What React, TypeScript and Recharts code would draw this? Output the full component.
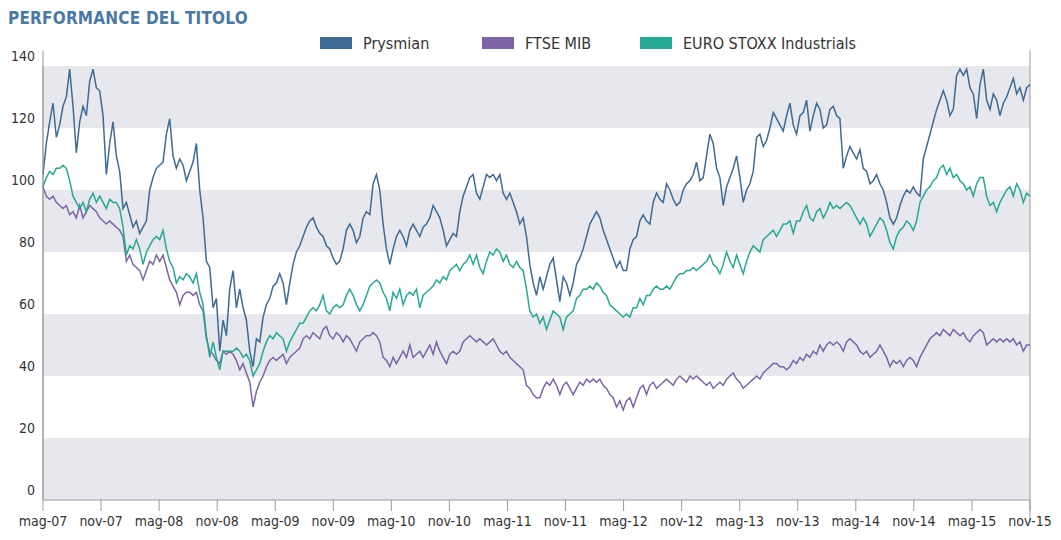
import React from "react";
import { LineChart, Line, XAxis, YAxis, ReferenceArea, ReferenceLine } from "recharts";

const tickLabels = ["mag-07","nov-07","mag-08","nov-08","mag-09","nov-09","mag-10","nov-10","mag-11","nov-11","mag-12","nov-12","mag-13","nov-13","mag-14","nov-14","mag-15","nov-15"];
const yTicks = [0, 20, 40, 60, 80, 100, 120, 140];

const prysmian = [
  105,115,122,128,117,121,127,130,139,127,112,122,127,124,135,139,133,132,124,105,115,122,111,106,94,96,92,88,90,86,88,90,100,104,107,108,109,118,123,111,107,110,108,103,106,109,115,
  100,91,77,75,62,65,48,58,53,68,74,62,68,62,58,48,43,52,51,59,63,65,69,70,73,70,63,70,76,80,82,85,88,90,91,88,86,85,82,81,78,76,77,81,87,89,87,83,85,91,93,
  92,102,105,100,89,81,76,81,85,87,85,82,87,89,87,85,88,89,91,95,93,91,87,82,84,86,85,93,98,101,104,105,99,97,101,105,104,105,103,105,99,97,99,96,93,89,91,85,76,70,66,
  72,68,72,76,78,71,64,72,70,66,70,76,78,81,85,89,91,93,91,87,84,81,78,75,77,74,74,81,84,85,90,92,90,89,96,99,97,96,102,100,97,95,96,100,102,103,105,109,103,104,111,
  118,115,107,104,95,101,104,107,111,104,96,100,102,106,117,118,114,116,120,125,123,121,119,124,128,121,118,124,125,129,119,124,128,126,120,121,126,127,124,123,107,111,114,112,110,113,107,106,
  102,103,105,102,100,96,91,89,91,95,98,100,99,101,99,98,110,114,118,122,126,129,132,129,124,126,137,139,137,139,133,131,123,134,139,129,126,131,129,124,128,130,133,136,131,133,129,133,134
];

const ftseMib = [
  101,98,97,98,96,95,94,95,92,93,91,95,91,93,95,94,93,91,90,89,90,89,88,87,85,77,79,76,75,74,71,74,77,76,79,77,79,75,71,69,67,63,66,67,67,66,67,
  63,61,52,48,47,45,44,48,47,48,47,45,42,44,41,38,30,35,38,40,43,45,46,45,46,47,44,46,47,48,49,52,53,52,54,53,52,55,56,53,52,54,53,51,53,52,50,48,51,52,53,
  53,54,53,51,46,45,43,46,44,46,48,46,50,46,47,48,46,48,50,47,51,48,46,44,47,48,47,48,51,52,53,52,51,52,51,50,51,52,50,48,47,48,46,45,44,43,42,37,36,34,33,
  33,36,38,37,39,37,34,37,38,36,34,36,38,37,39,38,39,38,39,37,36,34,33,30,32,29,32,33,30,33,36,37,34,37,38,36,37,38,39,38,37,39,40,39,38,40,39,40,39,38,37,
  38,36,37,38,37,39,40,41,39,38,36,37,38,39,40,39,41,42,43,44,44,43,43,42,43,45,44,46,45,47,46,48,47,50,48,50,51,50,51,50,48,51,52,51,50,48,47,48,
  46,47,48,50,48,46,43,45,44,45,43,45,46,45,43,46,48,50,52,53,54,53,55,54,53,55,54,53,54,52,51,53,54,55,54,50,51,52,51,52,51,52,51,52,50,51,48,50,50
];

const euroStoxx = [
  101,104,106,105,107,107,108,107,103,98,96,94,96,93,97,99,96,98,96,94,97,96,96,94,88,79,82,81,84,81,76,80,82,84,85,84,87,81,77,75,70,72,71,73,72,70,73,
  67,63,53,46,51,46,42,48,48,48,48,49,48,46,47,45,40,42,44,48,51,53,52,54,53,52,48,51,53,55,57,57,59,61,62,61,63,66,61,60,62,63,62,63,66,68,66,63,61,63,66,
  69,70,71,70,67,65,61,67,65,68,63,66,67,66,68,62,66,67,68,69,71,70,72,71,74,75,76,74,76,77,79,76,79,75,73,77,80,79,81,80,77,79,76,75,77,75,74,68,61,59,60,
  57,59,55,58,61,60,59,55,59,60,61,65,66,68,68,69,68,70,69,67,66,63,62,61,60,59,60,59,62,62,65,63,66,66,68,69,68,68,69,68,70,72,73,73,74,74,75,74,75,76,77,
  79,76,75,73,76,80,77,75,79,76,73,77,80,82,81,80,84,85,86,87,85,87,89,89,90,86,90,90,93,95,91,90,93,94,91,93,96,94,95,94,95,96,95,93,91,89,91,89,
  85,87,89,91,90,87,83,81,85,87,88,90,89,87,90,96,98,100,101,103,104,107,108,105,107,104,105,103,102,100,101,98,102,104,104,98,95,96,93,96,98,100,101,98,102,100,96,99,98
];

const seriesNames = ["Prysmian", "FTSE MIB", "EURO STOXX Industrials"];
const COLORS = { prysmian: "#3e6a94", ftse: "#7c64a6", euro: "#27a892" };
const FONT = "'Liberation Sans Narrow','DejaVu Sans Condensed','Roboto Condensed','Open Sans',sans-serif";
const TEXT = "#333";

const N = prysmian.length;
const data = prysmian.map((v, i) => ({ i, prysmian: v, ftse: ftseMib[i], euro: euroStoxx[i] }));
const step = (N - 1) / (tickLabels.length - 1);
const xTicks = tickLabels.map((_, k) => k * step);
const bands: [number, number][] = [];
for (let k = 0; k < yTicks.length - 1; k += 2) bands.push([yTicks[k], yTicks[k + 1]]);

const YTick = (props: any) => {
  const { x, y, payload } = props;
  return (
    <text x={x} y={y - 10} dy="0.35em" textAnchor="end" fill={TEXT} fontSize={14} fontFamily={FONT}>
      {payload.value}
    </text>
  );
};

const XTick = (props: any) => {
  const { x, y, payload } = props;
  const idx = Math.round(payload.value / step);
  return (
    <text x={x} y={y} dy="0.9em" textAnchor="middle" fill={TEXT} fontSize={14} fontFamily={FONT}>
      {tickLabels[idx]}
    </text>
  );
};

const legendItems = [
  { name: seriesNames[0], color: COLORS.prysmian, left: 320 },
  { name: seriesNames[1], color: COLORS.ftse, left: 482 },
  { name: seriesNames[2], color: COLORS.euro, left: 640 },
];

export default function App() {
  return (
    <div style={{ position: "absolute", left: 0, top: 0, width: 1061, height: 540, background: "#fff", fontFamily: FONT }}>
      <div style={{ position: "absolute", left: 8, top: 8, fontSize: 17, lineHeight: "20px", fontWeight: 700, color: "#4a78a4", letterSpacing: 0.2 }}>
        PERFORMANCE DEL TITOLO
      </div>
      {legendItems.map((it) => (
        <div key={it.name} style={{ position: "absolute", left: it.left, top: 33, height: 20, display: "flex", alignItems: "center", fontSize: 16, color: TEXT }}>
          <span style={{ display: "inline-block", width: 32, height: 12, background: it.color, marginRight: 11 }} />
          <span>{it.name}</span>
        </div>
      ))}
      <div style={{ position: "absolute", left: 0, top: 0 }}>
        <LineChart width={1061} height={540} data={data} margin={{ top: 66, right: 31, bottom: 10, left: 0 }}>
          {bands.map(([a, b]) => (
            <ReferenceArea key={a} y1={a} y2={b} fill="#e7e8ed" fillOpacity={1} stroke="none" ifOverflow="visible" />
          ))}
          <XAxis
            dataKey="i"
            type="number"
            domain={[0, N - 1]}
            ticks={xTicks}
            interval={0}
            tick={<XTick />}
            tickSize={11}
            tickLine={{ stroke: "#9a9a9a" }}
            axisLine={{ stroke: "#9a9a9a" }}
            height={30}
          />
          <YAxis
            type="number"
            domain={[0, 140]}
            ticks={yTicks}
            interval={0}
            tick={<YTick />}
            tickLine={false}
            tickSize={0}
            tickMargin={8}
            axisLine={{ stroke: "#9a9a9a" }}
            width={43}
            allowDataOverflow
          />
          <ReferenceLine segment={[{ x: 0, y: 0 }, { x: 0, y: 145 }]} stroke="#9a9a9a" ifOverflow="visible" />
          <ReferenceLine segment={[{ x: N - 1, y: -7 }, { x: N - 1, y: 145 }]} stroke="#9a9a9a" ifOverflow="visible" />
          <Line type="linear" dataKey="ftse" stroke={COLORS.ftse} strokeWidth={1.5} dot={false} isAnimationActive={false} />
          <Line type="linear" dataKey="euro" stroke={COLORS.euro} strokeWidth={1.5} dot={false} isAnimationActive={false} />
          <Line type="linear" dataKey="prysmian" stroke={COLORS.prysmian} strokeWidth={1.5} dot={false} isAnimationActive={false} />
        </LineChart>
      </div>
    </div>
  );
}
